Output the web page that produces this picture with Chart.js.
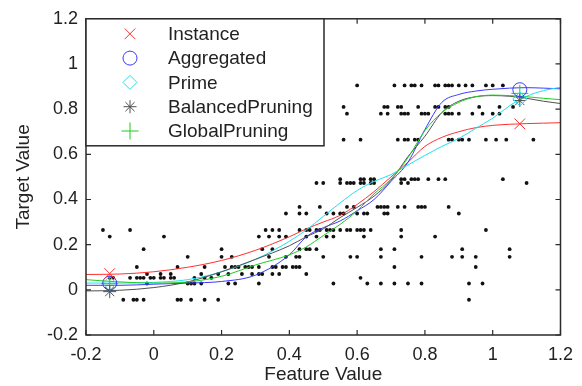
<!DOCTYPE html>
<html><head><meta charset="utf-8">
<script src="https://cdn.jsdelivr.net/npm/chart.js@4/dist/chart.umd.min.js"></script>
<style>html,body{margin:0;padding:0;background:#fff;}#wrap{width:582px;height:386px;}</style>
</head><body><div id="wrap"><canvas id="c" width="582" height="386"></canvas></div>
<script>
// ---- data ----
const seriesNames = ['Instance','Aggregated','Prime','BalancedPruning','GlobalPruning'];
const curveX = [-0.2,-0.1,0,0.1,0.2,0.3,0.4,0.45,0.5,0.55,0.6,0.65,0.7,0.75,0.8,0.85,0.9,0.95,1.0,1.05,1.1,1.15,1.2];
const instanceY   = [.068,.070,.080,.100,.130,.175,.235,.27,.30,.33,.378,.435,.50,.565,.635,.675,.70,.718,.728,.733,.736,.738,.74];
const aggregatedY = [.02,.02,.025,.03,.037,.065,.155,.235,.275,.305,.35,.40,.48,.565,.71,.83,.865,.88,.888,.893,.895,.893,.89];
const primeY      = [.03,.03,.033,.045,.08,.135,.215,.265,.325,.385,.44,.48,.51,.553,.595,.635,.67,.715,.76,.815,.857,.882,.897];
const balancedY   = [-.005,-.002,.01,.035,.08,.135,.195,.235,.27,.32,.365,.415,.485,.59,.68,.785,.835,.855,.86,.857,.848,.835,.825];
const globalY     = [.045,.035,.03,.035,.06,.11,.155,.19,.24,.29,.35,.425,.49,.585,.705,.785,.83,.855,.862,.86,.855,.848,.842];
const markerX = [-0.13, 1.08];
const instanceMarkY   = [0.072, 0.735];
const aggregatedMarkY = [0.03, 0.886];
const primeMarkY      = [0.028, 0.845];
const balancedMarkY   = [-0.008, 0.838];
const globalMarkY     = [0.027, 0.870];
const dotLevels = [0.905,0.81,0.78,0.665,0.49,0.473,0.367,0.338,0.265,0.236,0.18,0.146,0.101,0.07,0.053,0.028,-0.044];
const dotRowsX = [
 [0.60,0.71,0.74,0.76,0.77,0.79,0.83,0.84,0.86,0.87,0.88,0.90,0.92,0.94,0.98,1.00,1.03],
 [0.56,0.68,0.69,0.72,0.73,0.78,0.83,0.84,0.86,0.87,0.96,1.02,1.06],
 [0.57,0.67,0.69,0.73,0.74,0.75,0.79,0.80,0.81,0.86,0.87,0.88,0.90,0.94,0.97,1.00,1.02],
 [0.56,0.61,0.72,0.74,0.75,0.77,0.78,0.87,0.88,0.90,0.91,0.93,0.98,1.01,1.04,1.12],
 [0.55,0.61,0.62,0.64,0.65,0.73,0.74,0.76,0.77,0.78,0.81,0.84,0.86,1.03],
 [0.48,0.50,0.55,0.57,0.58,0.59,0.61,0.62,0.64,0.65,0.73,0.75,1.10],
 [0.43,0.49,0.57,0.59,0.66,0.67,0.68,0.69,0.72,0.74,0.78,0.79,0.80,0.87],
 [0.39,0.43,0.45,0.51,0.53,0.55,0.56,0.60,0.62,0.63,0.68,0.69,0.90],
 [-0.15,-0.07,0.33,0.35,0.37,0.43,0.45,0.46,0.48,0.49,0.51,0.52,0.53,0.55,0.57,0.58,0.60,0.61,0.62,0.64,0.73,0.98],
 [-0.13,0.03,0.31,0.34,0.37,0.39,0.45,0.48,0.51,0.53,0.62,0.73,0.83],
 [-0.03,0.20,0.32,0.35,0.43,0.45,0.46,0.48,0.67,0.71,0.91,1.05],
 [0.10,0.20,0.23,0.34,0.39,0.42,0.43,0.50,0.58,0.60,0.67,0.79,0.88,0.91,0.95,1.05],
 [-0.05,0.07,0.15,0.21,0.23,0.24,0.25,0.27,0.28,0.29,0.31,0.35,0.36,0.38,0.39,0.41,0.42,0.43,0.71,0.95],
 [-0.02,0.02,0.05,0.14,0.19,0.22,0.26,0.29,0.31,0.32,0.35,0.37,0.45],
 [-0.13,-0.12,-0.07,-0.05,-0.04,-0.03,-0.01,0.00,0.02,0.03,0.05,0.06,0.12,0.15,0.17,0.61],
 [-0.02,0.10,0.11,0.12,0.14,0.22,0.24,0.31,0.53,0.63,0.67,0.71,0.75,0.79,0.93,0.97],
 [-0.09,-0.06,-0.05,-0.03,0.07,0.08,0.11,0.15,0.19,0.93]
];
const xTicks = [-0.2,0,0.2,0.4,0.6,0.8,1,1.2];
const yTicks = [-0.2,0,0.2,0.4,0.6,0.8,1,1.2];

// ---- styles ----
const colors = ['#ff3030','#3a3aff','#20e0ee','#505050','#20cc20'];
const markStyles = ['crossRot','circle','rectRot','star','cross'];
const markRadius = [7.5,7,7,6.5,8.5];
const curvesY = [instanceY,aggregatedY,primeY,balancedY,globalY];
const marksY = [instanceMarkY,aggregatedMarkY,primeMarkY,balancedMarkY,globalMarkY];
const FONT = 'Liberation Sans, Arial, sans-serif';
const TXT = '#222';

const dots = [];
dotLevels.forEach((lv,i)=>dotRowsX[i].forEach(x=>dots.push({x:x,y:lv})));

const datasets = [{
  label:'data', data:dots, showLine:false, pointRadius:1.9, pointHoverRadius:1.9,
  pointStyle:'circle', backgroundColor:'#111', borderColor:'#111', borderWidth:0, order:10
}];
curvesY.forEach((ys,i)=>{
  datasets.push({label:seriesNames[i], data:curveX.map((x,k)=>({x:x,y:ys[k]})), showLine:true,
    borderColor:colors[i], borderWidth:1, pointRadius:0, cubicInterpolationMode:'monotone', fill:false, order:5-i});
});
marksY.forEach((ys,i)=>{
  datasets.push({label:seriesNames[i]+' marker', data:markerX.map((x,k)=>({x:x,y:ys[k]})), showLine:false,
    pointStyle:markStyles[i], pointRadius:markRadius[i], pointHoverRadius:markRadius[i],
    borderColor:colors[i], backgroundColor:'rgba(0,0,0,0)', pointBorderWidth:1, borderWidth:1, order:0});
});

function drawMark(ctx, style, x, y, r){
  ctx.beginPath();
  const d = r*Math.SQRT1_2;
  if(style==='crossRot'){ctx.moveTo(x-d,y-d);ctx.lineTo(x+d,y+d);ctx.moveTo(x-d,y+d);ctx.lineTo(x+d,y-d);}
  else if(style==='circle'){ctx.arc(x,y,r,0,Math.PI*2);}
  else if(style==='rectRot'){ctx.moveTo(x-r,y);ctx.lineTo(x,y-r);ctx.lineTo(x+r,y);ctx.lineTo(x,y+r);ctx.closePath();}
  else if(style==='star'){ctx.moveTo(x-r,y);ctx.lineTo(x+r,y);ctx.moveTo(x,y-r);ctx.lineTo(x,y+r);
    ctx.moveTo(x-d,y-d);ctx.lineTo(x+d,y+d);ctx.moveTo(x-d,y+d);ctx.lineTo(x+d,y-d);}
  else if(style==='cross'){ctx.moveTo(x-r,y);ctx.lineTo(x+r,y);ctx.moveTo(x,y-r);ctx.lineTo(x,y+r);}
  ctx.stroke();
}

const framePlugin = {
  id:'frame',
  afterDraw(chart){
    const ctx = chart.ctx, a = chart.chartArea, sx = chart.scales.x, sy = chart.scales.y;
    ctx.save();
    ctx.strokeStyle = '#2a2a2a'; ctx.lineWidth = 1.5;
    ctx.strokeRect(a.left, a.top, a.right-a.left, a.bottom-a.top);
    ctx.lineWidth = 1.2;
    ctx.beginPath();
    xTicks.forEach(v=>{const p=sx.getPixelForValue(v);
      ctx.moveTo(p,a.bottom);ctx.lineTo(p,a.bottom-5);ctx.moveTo(p,a.top);ctx.lineTo(p,a.top+5);});
    yTicks.forEach(v=>{const p=sy.getPixelForValue(v);
      ctx.moveTo(a.left,p);ctx.lineTo(a.left+5,p);ctx.moveTo(a.right,p);ctx.lineTo(a.right-5,p);});
    ctx.stroke();
    // legend
    const lw = 238, lh = 127;
    ctx.fillStyle = '#fff';
    ctx.fillRect(a.left, a.top, lw, lh);
    ctx.lineWidth = 1.5; ctx.strokeStyle = '#2a2a2a';
    ctx.strokeRect(a.left, a.top, lw, lh);
    ctx.font = '19px ' + FONT; ctx.textBaseline = 'middle'; ctx.textAlign = 'left';
    seriesNames.forEach((n,i)=>{
      const y = a.top + 15 + i*24.3;
      ctx.strokeStyle = colors[i]; ctx.lineWidth = 1;
      drawMark(ctx, markStyles[i], a.left+44, y, markRadius[i]);
      ctx.fillStyle = TXT;
      ctx.fillText(n, a.left+82, y+1);
    });
    ctx.restore();
  }
};

const fmt = v => { const r = Math.round(v*10)/10; return r===0 ? '0' : String(r); };

new Chart(document.getElementById('c'), {
  type:'scatter',
  data:{datasets:datasets},
  options:{
    responsive:false, animation:false, devicePixelRatio:1,
    layout:{padding:{left:0,right:17,top:14,bottom:0}},
    plugins:{legend:{display:false}, tooltip:{enabled:false}},
    elements:{line:{borderCapStyle:'round'}},
    scales:{
      x:{type:'linear', min:-0.2, max:1.2,
        afterBuildTicks:s=>{s.ticks = xTicks.map(v=>({value:v}));},
        afterFit:s=>{s.height = 51;},
        grid:{display:false, drawTicks:false}, border:{display:false},
        ticks:{callback:fmt, font:{family:FONT,size:18}, color:TXT, padding:9, maxRotation:0, autoSkip:false},
        title:{display:true, text:'Feature Value', font:{family:FONT,size:19}, color:TXT, padding:{top:0,bottom:0}}
      },
      y:{type:'linear', min:-0.2, max:1.2,
        afterBuildTicks:s=>{s.ticks = yTicks.map(v=>({value:v}));},
        afterFit:s=>{s.width = 86;},
        grid:{display:false, drawTicks:false}, border:{display:false},
        ticks:{callback:fmt, font:{family:FONT,size:18}, color:TXT, padding:8, autoSkip:false},
        title:{display:true, text:'Target Value', font:{family:FONT,size:19}, color:TXT, padding:{top:12,bottom:0}}
      }
    }
  },
  plugins:[framePlugin]
});
</script></body></html>
